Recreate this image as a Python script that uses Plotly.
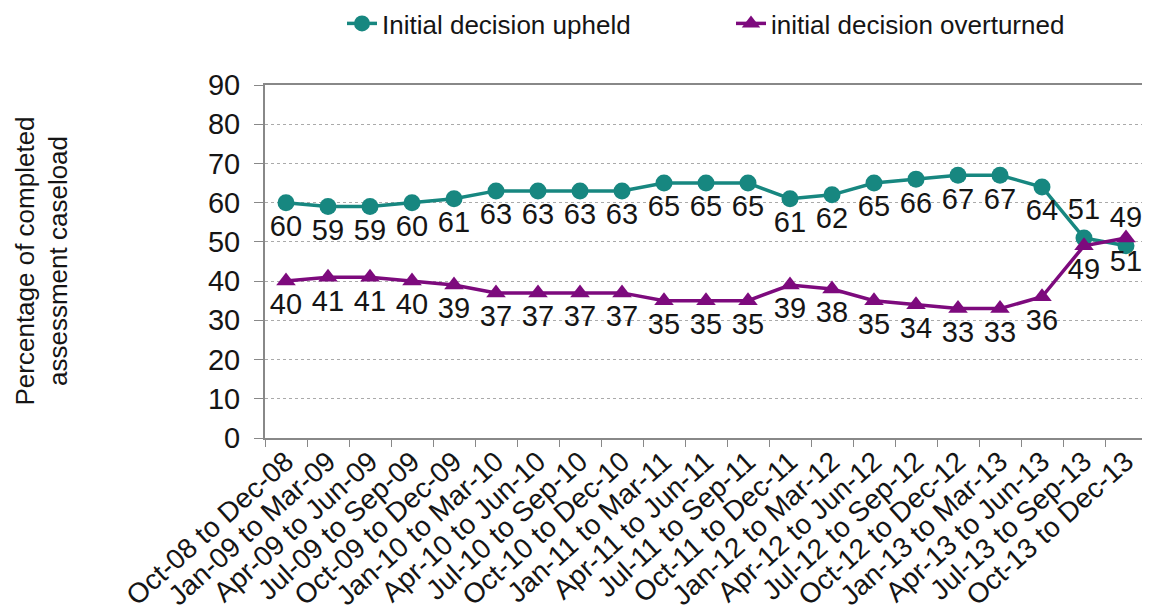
import plotly.graph_objects as go

categories = ["Oct-08 to Dec-08", "Jan-09 to Mar-09", "Apr-09 to Jun-09", "Jul-09 to Sep-09",
              "Oct-09 to Dec-09", "Jan-10 to Mar-10", "Apr-10 to Jun-10", "Jul-10 to Sep-10",
              "Oct-10 to Dec-10", "Jan-11 to Mar-11", "Apr-11 to Jun-11", "Jul-11 to Sep-11",
              "Oct-11 to Dec-11", "Jan-12 to Mar-12", "Apr-12 to Jun-12", "Jul-12 to Sep-12",
              "Oct-12 to Dec-12", "Jan-13 to Mar-13", "Apr-13 to Jun-13", "Jul-13 to Sep-13",
              "Oct-13 to Dec-13"]
upheld = [60, 59, 59, 60, 61, 63, 63, 63, 63, 65, 65, 65, 61, 62, 65, 66, 67, 67, 64, 51, 49]
overturned = [40, 41, 41, 40, 39, 37, 37, 37, 37, 35, 35, 35, 39, 38, 35, 34, 33, 33, 36, 49, 51]

teal = "#178780"
purple = "#7D0A7D"
font_family = "Liberation Sans, Arial, sans-serif"
txt = "#151515"

n = len(categories)
upheld_pos = ["bottom center"] * (n - 2) + ["top center", "top center"]
over_pos = ["bottom center"] * n

# page body adds an offset; margins compensate for it
L, R, T, B = 257, 11, 77, 183
plot_w = 1150 - L - R
plot_h = 613 - T - B

fig = go.Figure()
fig.add_trace(go.Scatter(
    x=categories, y=upheld, name="Initial decision upheld",
    mode="lines+markers+text", text=[str(v) for v in upheld], textposition=upheld_pos,
    textfont=dict(size=29, color=txt, family=font_family),
    line=dict(color=teal, width=3.5), marker=dict(symbol="circle", size=17, color=teal),
    cliponaxis=False,
))
fig.add_trace(go.Scatter(
    x=categories, y=overturned, name="initial decision overturned",
    mode="lines+markers+text", text=[str(v) for v in overturned], textposition=over_pos,
    textfont=dict(size=29, color=txt, family=font_family),
    line=dict(color=purple, width=3.5), marker=dict(symbol="triangle-up", size=17, color=purple),
    cliponaxis=False,
))

fig.update_layout(
    width=1150, height=613,
    margin=dict(l=L, r=R, t=T, b=B, autoexpand=False),
    paper_bgcolor="white", plot_bgcolor="white",
    font=dict(family=font_family, size=26, color=txt),
    showlegend=True,
    legend=dict(orientation="h", x=(382 - 8 - 40 - L) / plot_w, xref="paper", xanchor="left",
                y=1 + (T + 8) / plot_h, yref="paper", yanchor="top",
                font=dict(size=26, color=txt), entrywidth=344, entrywidthmode="pixels",
                bgcolor="rgba(0,0,0,0)"),
    xaxis=dict(
        type="category", range=[-0.5, n - 0.5], tickangle=-42, automargin=False,
        tickson="boundaries", ticks="outside", ticklen=7, tickcolor="#888888",
        showline=True, linecolor="#888888", linewidth=2, mirror=True,
        showgrid=False, tickfont=dict(size=28, color=txt), ticklabelstandoff=-6,
    ),
    yaxis=dict(
        range=[0, 90], dtick=10, ticks="outside", ticklen=9, tickcolor="#888888",
        showline=True, linecolor="#888888", linewidth=2, mirror=True, automargin=False,
        showgrid=True, gridcolor="#AAAAAA", griddash="dot", gridwidth=1,
        tickfont=dict(size=29, color=txt), zeroline=False, ticklabelstandoff=8,
    ),
    annotations=[dict(
        text="Percentage of completed<br>assessment caseload",
        xref="paper", yref="paper", x=(41 - 8 - L) / plot_w, y=0.5,
        xanchor="center", yanchor="middle", textangle=-90, showarrow=False,
        font=dict(size=26, color=txt),
    )],
)

fig.write_html("out.html")
